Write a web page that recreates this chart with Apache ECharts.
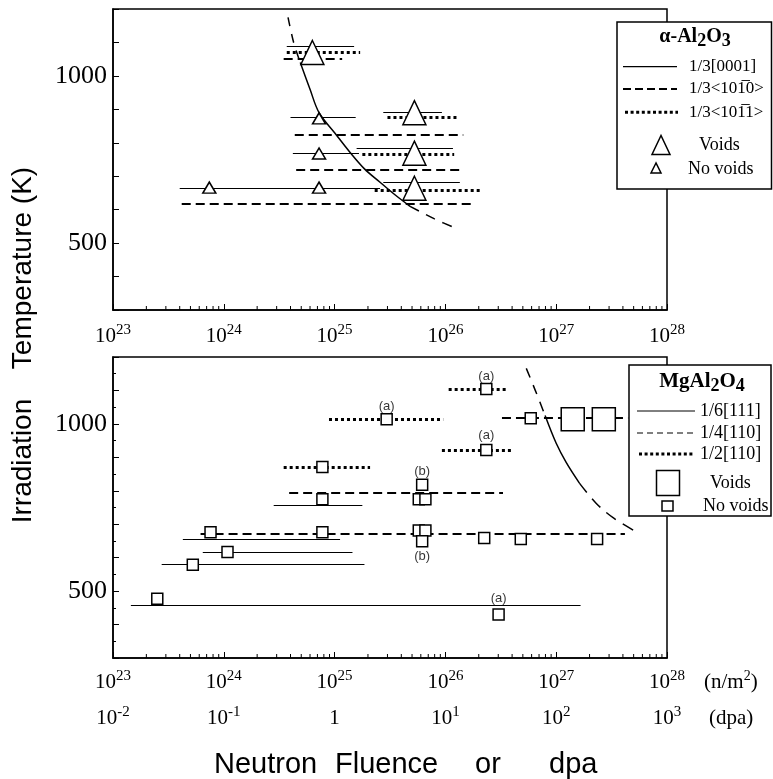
<!DOCTYPE html>
<html><head><meta charset="utf-8">
<script src="https://cdn.jsdelivr.net/npm/echarts@6/dist/echarts.min.js"></script>
<style>html,body{margin:0;padding:0;background:#fff}#c{width:773px;height:779px}</style>
</head><body><div id="c"></div>
<script>
// ================= DATA =================
const tempLabels = [500, 1000];
const fluenceDecades = [23, 24, 25, 26, 27];
const minorMultipliers = [2, 3, 4, 5, 6, 7, 8, 9];

// ---- alpha-Al2O3 (top) : loop ranges [fluence start, fluence end, T (K)]
const alSolid = [
  [3.7e24, 1.5e25, 1090],
  [4.0e24, 1.55e25, 876],
  [2.75e25, 9.3e25, 891],
  [4.2e24, 1.66e25, 768],
  [1.58e25, 1.17e26, 783],
  [4.0e23, 2.57e25, 663],
  [2.75e25, 1.35e26, 681]
];
const alDashed = [
  [3.47e24, 1.17e25, 1050],
  [4.37e24, 1.45e26, 824],
  [4.5e24, 1.45e26, 718],
  [4.17e23, 1.74e26, 619]
];
const alDotted = [
  [3.7e24, 1.7e25, 1072],
  [3.0e25, 1.26e26, 877],
  [1.78e25, 1.2e26, 767],
  [2.3e25, 2.04e26, 659]
];
const alVoids = [[6.3e24, 1070], [5.25e25, 890], [5.25e25, 769], [5.25e25, 664]];
const alNoVoids = [[7.24e24, 873], [7.24e24, 768], [7.4e23, 666], [7.24e24, 666]];
const alCurveUpper = [[3.8e24, 1175], [4.27e24, 1100], [4.9e24, 1040]];
const alCurveMid = [[4.9e24, 1040], [6.0e24, 960], [7.24e24, 890], [1.0e25, 830], [1.38e25, 771], [1.86e25, 722], [2.57e25, 682], [3.55e25, 643], [4.8e25, 610]];
const alCurveLower = [[4.8e25, 610], [7.9e25, 573], [1.29e26, 542]];

// ---- MgAl2O4 (bottom)
const mgSolid = [
  [2.82e24, 1.78e25, 756],
  [4.27e23, 1.12e25, 656],
  [6.46e23, 1.45e25, 617],
  [2.75e23, 1.86e25, 579],
  [1.45e23, 1.66e27, 457]
];
const mgDashed = [
  [3.89e24, 3.31e26, 793],
  [6.17e23, 4.17e27, 671],
  [3.24e26, 4.47e27, 1017]
];
const mgDotted = [
  [8.9e24, 9.55e25, 1014],
  [3.47e24, 2.09e25, 871],
  [1.07e26, 3.63e26, 1104],
  [9.3e25, 3.98e26, 922]
];
const mgNoVoids = [
  [2.95e25, 1014], [7.76e24, 871], [7.76e24, 775], [6.17e25, 818],
  [5.75e25, 775], [6.6e25, 775], [7.59e23, 676], [7.76e24, 676],
  [5.75e25, 681], [6.6e25, 681], [6.17e25, 649], [2.24e26, 659],
  [4.79e26, 656], [2.34e27, 656], [1.08e24, 617], [5.25e23, 579],
  [2.51e23, 477], [3.02e26, 430], [2.34e26, 1104], [2.34e26, 922],
  [5.89e26, 1017]
];
const mgVoids = [[1.41e27, 1014], [2.69e27, 1014]];
const mgNotes = [
  ['(a)', 2.95e25, 1052], ['(a)', 2.34e26, 1143], ['(a)', 2.34e26, 967],
  ['(a)', 3.02e26, 478], ['(b)', 6.17e25, 858], ['(b)', 6.17e25, 604]
];
const mgCurveUpper = [[5.37e26, 1166], [6.46e26, 1101], [7.94e26, 1025]];
const mgCurveMid = [[7.94e26, 1025], [1.0e27, 942], [1.23e27, 885], [1.62e27, 823]];
const mgCurveLower = [[1.62e27, 823], [2.29e27, 763], [3.31e27, 718], [5.5e27, 674]];

// ================= CHART =================
const SERIF = "'Liberation Serif', 'Times New Roman', serif";
const SANS = "'Liberation Sans', Arial, sans-serif";
const NARROW = "'Liberation Sans Narrow', 'Liberation Sans', sans-serif";
const BLACK = '#000';

const richLab = {
  b: {fontFamily: SERIF, fontSize: 21, lineHeight: 26, color: BLACK},
  s: {fontFamily: SERIF, fontSize: 15, lineHeight: 14, verticalAlign: 'top', color: BLACK}
};
function powLabel(v) {
  const e = Math.round(Math.log10(v));
  return '{b|10}{s|' + e + '}';
}
function dpaLabel(v) {
  const e = Math.round(Math.log10(v));
  return e === 0 ? '{b|1}' : '{b|10}{s|' + e + '}';
}

function yAxisCfg(gi, minor) {
  return {
    type: 'value', gridIndex: gi, min: 300, max: 1200, interval: 100,
    axisLine: {show: true, lineStyle: {color: BLACK, width: 1.5}},
    axisTick: {show: true, inside: true, length: 6, lineStyle: {color: BLACK}},
    minorTick: minor ? {show: true, splitNumber: 2, length: 3, lineStyle: {color: BLACK}} : {show: false},
    splitLine: {show: false},
    axisLabel: {margin: 6, fontFamily: SERIF, fontSize: 26, color: BLACK,
      formatter: v => tempLabels.includes(v) ? String(v) : ''}
  };
}
function fluenceAxis(gi, margin) {
  return {
    type: 'log', logBase: 10, gridIndex: gi, min: 1e23, max: 1e28, splitNumber: 5,
    axisLine: {show: true, lineStyle: {color: BLACK, width: 1.5}},
    axisTick: {show: true, inside: true, length: 6, lineStyle: {color: BLACK}},
    splitLine: {show: false},
    axisLabel: {margin: margin, formatter: powLabel, rich: richLab, showMinLabel: true, showMaxLabel: true}
  };
}

function segData(arr) {
  return arr.map(s => ({coords: [[s[0], s[2]], [s[1], s[2]]]}));
}
function segSeries(arr, gi, style) {
  return {type: 'lines', coordinateSystem: 'cartesian2d', xAxisIndex: gi, yAxisIndex: gi,
    data: segData(arr), lineStyle: Object.assign({color: BLACK, opacity: 1}, style), silent: true, z: 2};
}
function curveSeries(data, xi, yi, dash) {
  return {type: 'line', xAxisIndex: xi, yAxisIndex: yi, data: data, smooth: 0.35,
    showSymbol: false, symbol: 'none', silent: true, z: 3,
    lineStyle: {color: BLACK, width: 1.5, type: dash}};
}
function symSeries(data, xi, yi, symbol, size) {
  return {type: 'scatter', xAxisIndex: xi, yAxisIndex: yi, data: data, symbol: symbol, symbolSize: size,
    itemStyle: {color: '#fff', borderColor: BLACK, borderWidth: 1.5, opacity: 1}, silent: true, z: 5};
}
const minorVals = [];
fluenceDecades.forEach(d => minorMultipliers.forEach(m => minorVals.push([m * Math.pow(10, d), 300])));
function minorTickSeries(xi, yi) {
  return {type: 'custom', xAxisIndex: xi, yAxisIndex: yi, data: minorVals, silent: true, z: 4,
    renderItem: (params, api) => {
      const p = api.coord([api.value(0), api.value(1)]);
      return {type: 'line', shape: {x1: p[0], y1: p[1], x2: p[0], y2: p[1] - 4},
        style: {stroke: BLACK, lineWidth: 1}};
    }};
}

const DASH_THICK = {width: 2, type: [9, 5]};
const DOT_THICK = {width: 3, type: [3, 3]};
const SOLID_THIN = {width: 1.2, type: 'solid'};

function txt(x, y, text, font, opts) {
  return Object.assign({type: 'text', x: x, y: y, silent: true,
    style: Object.assign({text: text, font: font, fill: BLACK, align: 'left', verticalAlign: 'middle',
      textAlign: 'left', textVerticalAlign: 'middle'}, opts && opts.style || {})},
    opts && opts.el || {});
}
function gline(x1, y1, x2, y2, w, dash) {
  return {type: 'line', silent: true, shape: {x1: x1, y1: y1, x2: x2, y2: y2},
    style: {stroke: BLACK, lineWidth: w, lineDash: dash || null}};
}
function z11(el) { el.z = 11; return el; }

const legendTop = [
  {type: 'rect', shape: {x: 617, y: 22, width: 154.5, height: 167}, style: {fill: '#fff', stroke: BLACK, lineWidth: 1.5}, z: 10, silent: true},
  {type: 'text', x: 695, y: 41, z: 11, silent: true, style: {
    text: '{t|α-Al}{s|2}{t|O}{s|3}', align: 'center', verticalAlign: 'middle', textAlign: 'center', textVerticalAlign: 'middle',
    rich: {t: {fontFamily: SERIF, fontWeight: 'bold', fontSize: 20, lineHeight: 20, verticalAlign: 'top', fill: BLACK, color: BLACK},
           s: {fontFamily: SERIF, fontWeight: 'bold', fontSize: 18, lineHeight: 28, fill: BLACK, color: BLACK}}}},
  z11(gline(623, 66.7, 677, 66.7, 1.2)),
  z11(gline(623, 89, 677, 89, 2, [8, 4])),
  z11(gline(625, 112.3, 678, 112.3, 3, [3, 2.6])),
  z11(txt(689, 66.7, '1/3[0001]', '17px ' + SERIF)),
  z11(txt(689, 89, '1/3<101\u03050>', '17px ' + SERIF)),
  z11(txt(689, 112.3, '1/3<101\u03051>', '17px ' + SERIF)),
  {type: 'polygon', z: 11, silent: true, shape: {points: [[661, 135.5], [652, 154.5], [670, 154.5]]}, style: {fill: '#fff', stroke: BLACK, lineWidth: 1.5}},
  {type: 'polygon', z: 11, silent: true, shape: {points: [[656, 163], [651, 173], [661, 173]]}, style: {fill: '#fff', stroke: BLACK, lineWidth: 1.5}},
  z11(txt(699, 145, 'Voids', '18px ' + SERIF)),
  z11(txt(688, 169, 'No voids', '18px ' + SERIF))
];
const legendBottom = [
  {type: 'rect', shape: {x: 629, y: 365, width: 142, height: 151}, style: {fill: '#fff', stroke: BLACK, lineWidth: 1.5}, z: 10, silent: true},
  {type: 'text', x: 702, y: 386, z: 11, silent: true, style: {
    text: '{t|MgAl}{s|2}{t|O}{s|4}', align: 'center', verticalAlign: 'middle', textAlign: 'center', textVerticalAlign: 'middle',
    rich: {t: {fontFamily: SERIF, fontWeight: 'bold', fontSize: 21, lineHeight: 21, verticalAlign: 'top', fill: BLACK, color: BLACK},
           s: {fontFamily: SERIF, fontWeight: 'bold', fontSize: 18, lineHeight: 29, fill: BLACK, color: BLACK}}}},
  z11(gline(637, 411, 695, 411, 1)),
  z11(gline(637, 433, 695, 433, 1.2, [6, 4])),
  z11(gline(639, 454, 695, 454, 3, [3, 2.6])),
  z11(txt(700, 411, '1/6[111]', '18px ' + SERIF)),
  z11(txt(700, 433, '1/4[110]', '18px ' + SERIF)),
  z11(txt(700, 454, '1/2[110]', '18px ' + SERIF)),
  {type: 'rect', z: 11, silent: true, shape: {x: 656.5, y: 470.5, width: 23, height: 25}, style: {fill: '#fff', stroke: BLACK, lineWidth: 1.5}},
  {type: 'rect', z: 11, silent: true, shape: {x: 662, y: 501, width: 11, height: 10}, style: {fill: '#fff', stroke: BLACK, lineWidth: 1.5}},
  z11(txt(710, 483, 'Voids', '18px ' + SERIF)),
  z11(txt(703, 506, 'No voids', '18px ' + SERIF))
];
const titles = [
  txt(23, 461, 'Irradiation', '28px ' + SANS, {el: {rotation: Math.PI / 2}, style: {align: 'center', textAlign: 'center'}}),
  txt(23, 268, 'Temperature (K)', '28px ' + SANS, {el: {rotation: Math.PI / 2}, style: {align: 'center', textAlign: 'center'}}),
  txt(214, 765, 'Neutron', '29px ' + SANS),
  txt(335, 765, 'Fluence', '29px ' + SANS),
  txt(475, 765, 'or', '29px ' + SANS),
  txt(549, 765, 'dpa', '29px ' + SANS),
  {type: 'text', x: 704, y: 682, silent: true, style: {text: '{b|(n/m}{s|2}{b|)}', align: 'left', verticalAlign: 'middle', textAlign: 'left', textVerticalAlign: 'middle',
    rich: {b: {fontFamily: SERIF, fontSize: 21, lineHeight: 26, fill: BLACK, color: BLACK},
           s: {fontFamily: SERIF, fontSize: 14, lineHeight: 14, verticalAlign: 'top', fill: BLACK, color: BLACK}}}},
  txt(709, 718, '(dpa)', '21px ' + SERIF)
];

const chart = echarts.init(document.getElementById('c'), null, {renderer: 'canvas'});
chart.setOption({
  animation: false,
  backgroundColor: '#fff',
  grid: [
    {left: 113, right: 106, top: 9, height: 301, show: true, borderColor: BLACK, borderWidth: 1.5, backgroundColor: 'transparent'},
    {left: 113, right: 106, top: 357, height: 301, show: true, borderColor: BLACK, borderWidth: 1.5, backgroundColor: 'transparent'}
  ],
  xAxis: [
    fluenceAxis(0, 13),
    fluenceAxis(1, 11),
    {type: 'log', logBase: 10, gridIndex: 1, min: 0.01, max: 1000, splitNumber: 5, position: 'bottom', offset: 36,
      axisLine: {show: false}, axisTick: {show: false}, splitLine: {show: false},
      axisLabel: {margin: 11, formatter: dpaLabel, rich: richLab, showMinLabel: true, showMaxLabel: true}}
  ],
  yAxis: [yAxisCfg(0, false), yAxisCfg(1, true)],
  series: [
    segSeries(alSolid, 0, SOLID_THIN),
    segSeries(alDashed, 0, DASH_THICK),
    segSeries(alDotted, 0, DOT_THICK),
    curveSeries(alCurveUpper, 0, 0, [9, 8]),
    curveSeries(alCurveMid, 0, 0, 'solid'),
    curveSeries(alCurveLower, 0, 0, [10, 8]),
    symSeries(alVoids, 0, 0, 'triangle', [23, 24]),
    symSeries(alNoVoids, 0, 0, 'triangle', [13, 11]),
    minorTickSeries(0, 0),

    segSeries(mgSolid, 1, {width: 1, type: 'solid'}),
    segSeries(mgDashed, 1, DASH_THICK),
    segSeries(mgDotted, 1, DOT_THICK),
    curveSeries(mgCurveUpper, 1, 1, [10, 8]),
    curveSeries(mgCurveMid, 1, 1, 'solid'),
    curveSeries(mgCurveLower, 1, 1, [12, 8]),
    symSeries(mgVoids, 1, 1, 'rect', 23),
    symSeries(mgNoVoids, 1, 1, 'rect', 11),
    {type: 'scatter', xAxisIndex: 1, yAxisIndex: 1, silent: true, z: 6,
      data: mgNotes.map(n => ({name: n[0], value: [n[1], n[2]]})),
      symbol: 'circle', symbolSize: 1, itemStyle: {color: 'rgba(0,0,0,0)'},
      label: {show: true, position: 'inside', formatter: p => p.name, fontFamily: NARROW, fontSize: 13, color: BLACK}},
    minorTickSeries(1, 1)
  ],
  graphic: legendTop.concat(legendBottom, titles)
});
</script></body></html>
